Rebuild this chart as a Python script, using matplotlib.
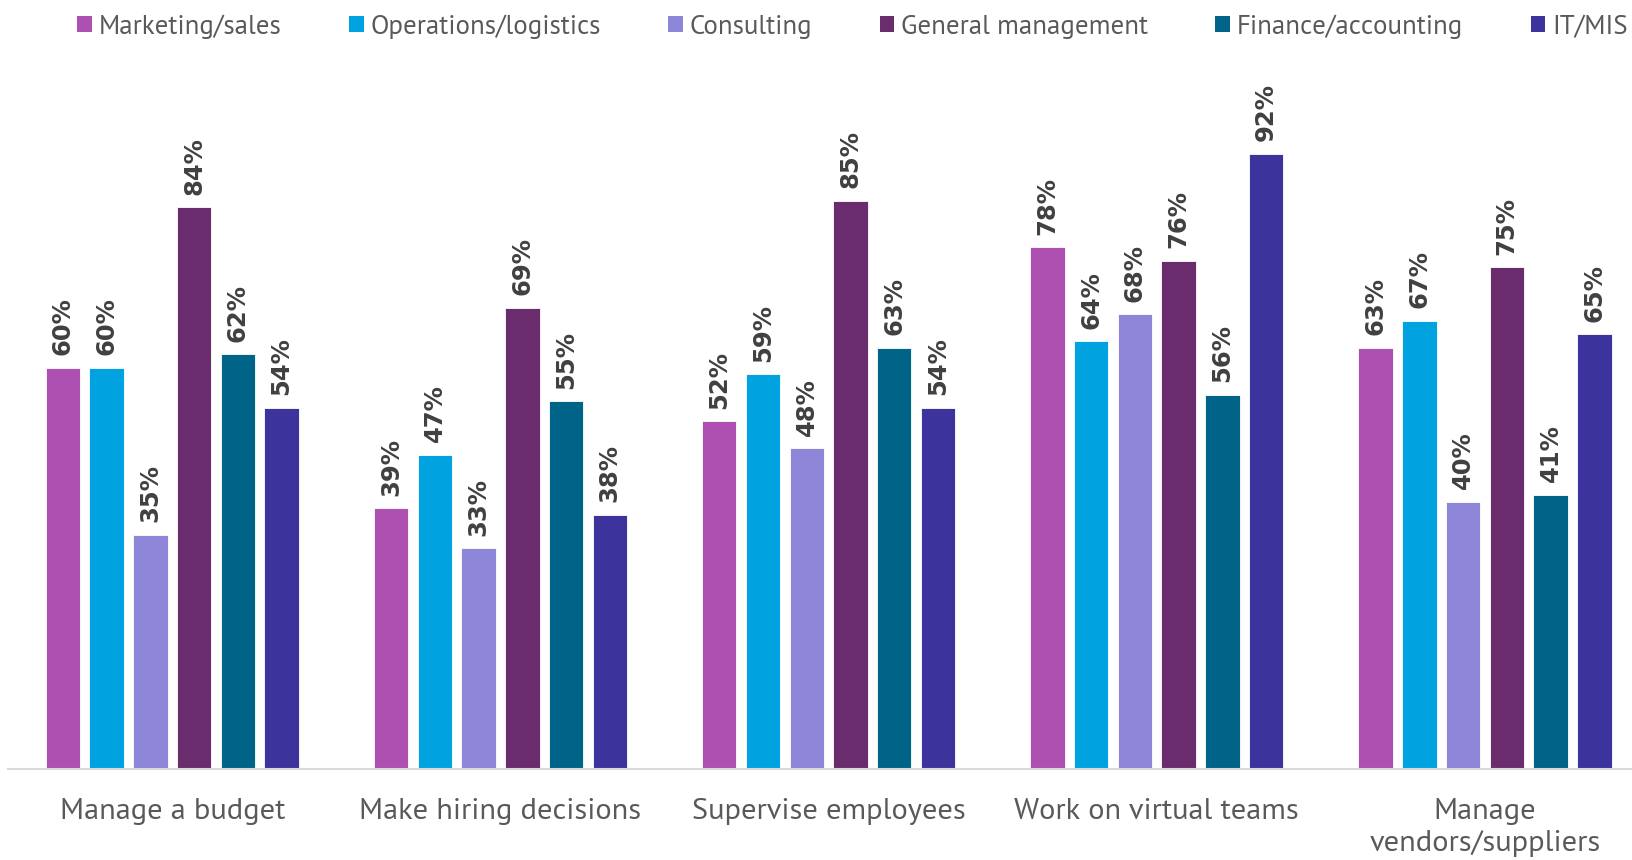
import numpy as np
import matplotlib.pyplot as plt
from matplotlib.patches import Patch
from matplotlib import font_manager

categories = ["Manage a budget", "Make hiring decisions", "Supervise employees",
              "Work on virtual teams", "Manage\nvendors/suppliers"]
series = ["Marketing/sales", "Operations/logistics", "Consulting",
          "General management", "Finance/accounting", "IT/MIS"]
marketing = [60, 39, 52, 78, 63]
operations = [60, 47, 59, 64, 67]
consulting = [35, 33, 48, 68, 40]
general_mgmt = [84, 69, 85, 76, 75]
finance = [62, 55, 63, 56, 41]
it_mis = [54, 38, 54, 92, 65]
colors = ["#AE4FB2", "#00A3E0", "#8C85D8", "#6A2C6C", "#006489", "#3C339C"]

values = [marketing, operations, consulting, general_mgmt, finance, it_mis]


def pick(candidates):
    names = {f.name for f in font_manager.fontManager.ttflist}
    for c in candidates:
        if c in names:
            return c
    return "DejaVu Sans"


tick_font = pick(["Tahoma", "PT Sans", "DejaVu Sans"])
label_font = pick(["Verdana", "DejaVu Sans"])

fig = plt.figure(figsize=(16.33, 8.6), dpi=100)
renderer = fig.canvas.get_renderer()


def size_for(text, target_px, family):
    # font size that gives the text about the wanted width in pixels
    t = fig.text(0, 0, text, fontsize=20, family=family)
    w = t.get_window_extent(renderer).width
    t.remove()
    return 20 * target_px / w


tick_size = size_for("Manage a budget", 225, tick_font)
legend_size = size_for("Operations/logistics", 230, tick_font)

ax = fig.add_axes([0.005, 0.1058, 0.995, 0.8942])

x = np.arange(len(categories))
pitch = 0.1333
width = 0.105
for i, (name, vals, c) in enumerate(zip(series, values, colors)):
    pos = x + (i - 2.5) * pitch
    ax.bar(pos, vals, width, color=c, edgecolor="white", linewidth=0.6, label=name)
    for px, v in zip(pos, vals):
        ax.annotate(f"{v}%", (px, v), xytext=(0, 9), textcoords="offset points",
                    rotation=90, ha="center", va="bottom", fontsize=17.5,
                    fontweight="bold", color="#404040", family=label_font)

ax.set_xlim(-0.5, 4.451)
ax.set_ylim(0, 115)
ax.set_yticks([])
ax.set_xticks(x)
ax.set_xticklabels(categories, fontsize=tick_size, color="#595959", family=tick_font,
                   linespacing=1.25)
ax.tick_params(axis="x", length=0, pad=21)
for s in ["top", "right", "left"]:
    ax.spines[s].set_visible(False)
ax.spines["bottom"].set_color("#D9D9D9")
ax.spines["bottom"].set_linewidth(1.5)

handles = [Patch(facecolor=c, label=n) for n, c in zip(series, colors)]
fig.legend(handles=handles, loc="center", bbox_to_anchor=(0.522, 0.969),
           ncol=6, frameon=False, handlelength=0.55, handleheight=0.55,
           handletextpad=0.25, columnspacing=2.5,
           prop={"family": tick_font, "size": legend_size}, labelcolor="#595959")

fig.savefig("out.png", dpi=100)
